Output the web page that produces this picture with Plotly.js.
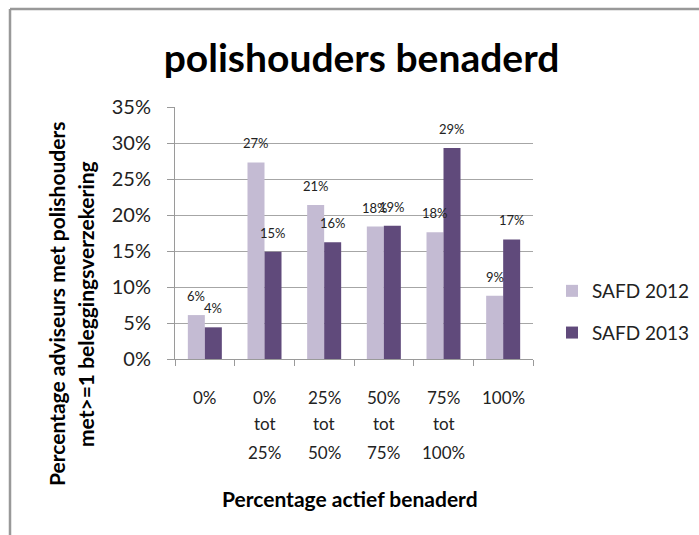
<!DOCTYPE html>
<html>
<head>
<meta charset="utf-8">
<script src="https://cdn.plot.ly/plotly-3.0.1.min.js"></script>
<style>
html,body{margin:0;padding:0;background:#fff;}
#chart{width:699px;height:535px;}
</style>
</head>
<body>
<div id="chart"></div>
<script>
const categories = ["0%", "0% tot 25%", "25% tot 50%", "50% tot 75%", "75% tot 100%", "100%"];
const tickRow1 = ["0%", "0%", "25%", "50%", "75%", "100%"];
const tickRow2 = ["", "tot", "tot", "tot", "tot", ""];
const tickRow3 = ["", "25%", "50%", "75%", "100%", ""];
const safd2012 = [6.1, 27.3, 21.4, 18.4, 17.6, 8.8];
const safd2013 = [4.4, 14.9, 16.2, 18.5, 29.3, 16.6];
const labels2012 = ["6%", "27%", "21%", "18%", "18%", "9%"];
const labels2013 = ["4%", "15%", "16%", "19%", "29%", "17%"];
const yTickVals = [0, 5, 10, 15, 20, 25, 30, 35];
const yTickText = ["0%", "5%", "10%", "15%", "20%", "25%", "30%", "35%"];

const FONT = "Lato, 'Open Sans', sans-serif";
// plot area in pixels
const L = 175, R = 533, T = 107, B = 359, W = 699, H = 535;
const px = v => (v - L) / (R - L);
const py = v => (B - v) / (B - T);

const traces = [
  {type: "bar", name: "SAFD 2012", x: categories, y: safd2012,
   marker: {color: "#C4BBD3"}, legendgroup: "a", hoverinfo: "y"},
  {type: "bar", name: "SAFD 2013", x: categories, y: safd2013,
   marker: {color: "#604A7B"}, legendgroup: "b", hoverinfo: "y"}
];

const annotations = [];
categories.forEach((c, i) => {
  annotations.push({x: c, y: safd2012[i], xref: "x", yref: "y", text: labels2012[i],
    showarrow: false, xshift: -8.5, yshift: 19, xanchor: "center", yanchor: "middle",
    font: {family: FONT, size: 13, color: "#222"}});
  annotations.push({x: c, y: safd2013[i], xref: "x", yref: "y", text: labels2013[i],
    showarrow: false, xshift: 8.5, yshift: 19, xanchor: "center", yanchor: "middle",
    font: {family: FONT, size: 13, color: "#222"}});
  [[tickRow1, 397], [tickRow2, 423], [tickRow3, 452]].forEach(([row, yy]) => {
    if (row[i]) annotations.push({x: c, y: py(yy), xref: "x", yref: "paper", text: row[i],
      showarrow: false, xanchor: "center", yanchor: "middle",
      font: {family: FONT, size: 17, color: "#222"}});
  });
});
annotations.push({x: px(56), y: py(304), xref: "paper", yref: "paper",
  text: "Percentage adviseurs met polishouders", textangle: -90, showarrow: false,
  xanchor: "center", yanchor: "middle", font: {family: FONT, size: 21, color: "#000", weight: "bold"}});
annotations.push({x: px(85), y: py(304), xref: "paper", yref: "paper",
  text: "met&gt;=1 beleggingsverzekering", textangle: -90, showarrow: false,
  xanchor: "center", yanchor: "middle", font: {family: FONT, size: 21, color: "#000", weight: "bold"}});
annotations.push({x: px(350), y: py(498), xref: "paper", yref: "paper",
  text: "Percentage actief benaderd", showarrow: false,
  xanchor: "center", yanchor: "middle", font: {family: FONT, size: 21, color: "#000", weight: "bold"}});

const layout = {
  width: W, height: H,
  margin: {l: L, r: W - R, t: T, b: H - B, pad: 0, autoexpand: false},
  paper_bgcolor: "#fff", plot_bgcolor: "#fff",
  title: {text: "polishouders benaderd", x: 361.5 / W, xanchor: "center",
    y: 1 - 58 / H, yanchor: "middle", xref: "container", yref: "container",
    font: {family: FONT, size: 39, color: "#000", weight: "bold"}},
  barmode: "group", bargap: 0.43, bargroupgap: 0,
  showlegend: true,
  legend: {x: px(552), xanchor: "left", y: py(312), yanchor: "middle",
    font: {family: FONT, size: 19, color: "#222"}, tracegroupgap: 14,
    itemwidth: 30, bgcolor: "rgba(0,0,0,0)"},
  xaxis: {type: "category", showticklabels: false, showgrid: false,
    showline: true, linecolor: "#9a9a9a", linewidth: 1,
    ticks: "outside", tickson: "boundaries", ticklen: 6, tickcolor: "#9a9a9a",
    fixedrange: true},
  yaxis: {range: [0, 35], tickvals: yTickVals, ticktext: yTickText,
    showgrid: true, gridcolor: "#a6a6a6", gridwidth: 1,
    showline: true, linecolor: "#9a9a9a", linewidth: 1,
    ticks: "outside", ticklen: 7, tickcolor: "#9a9a9a", ticklabelstandoff: 12,
    tickfont: {family: FONT, size: 20, color: "#222"}, zeroline: false,
    fixedrange: true},
  annotations: annotations,
  shapes: [
    {type: "line", xref: "paper", yref: "paper", x0: px(10), x1: px(705), y0: py(9), y1: py(9),
      line: {color: "#999", width: 2.5}},
    {type: "line", xref: "paper", yref: "paper", x0: px(10), x1: px(10), y0: py(9), y1: py(545),
      line: {color: "#999", width: 2.5}}
  ]
};

Plotly.newPlot("chart", traces, layout, {displayModeBar: false, staticPlot: true});
</script>
</body>
</html>
